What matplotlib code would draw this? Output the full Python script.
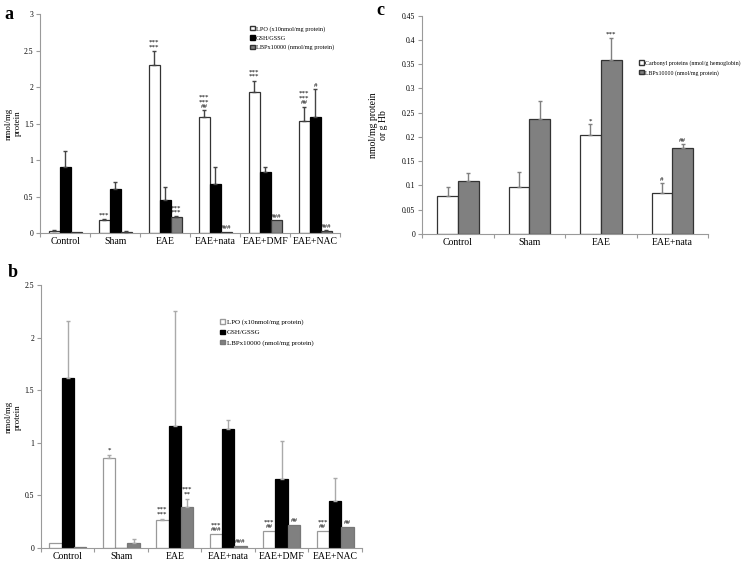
import matplotlib
matplotlib.use("Agg")
import matplotlib.pyplot as plt
from matplotlib.patches import Patch
from matplotlib.ticker import FuncFormatter, FixedLocator
import numpy as np

plt.rcParams['font.family'] = ['Liberation Serif', 'DejaVu Serif']

gruppi_ab = ["Control", "Sham", "EAE", "EAE+nata", "EAE+DMF", "EAE+NAC"]
gruppi_c = ["Control", "Sham", "EAE", "EAE+nata"]

# pannello a
a_lpo = [0.03, 0.18, 2.30, 1.59, 1.93, 1.54]
a_lpo_err = [0.02, 0.02, 0.19, 0.09, 0.16, 0.19]
a_gsh = [0.90, 0.61, 0.45, 0.67, 0.84, 1.59]
a_gsh_err = [0.23, 0.09, 0.18, 0.24, 0.06, 0.38]
a_lbp = [0.01, 0.02, 0.22, 0.02, 0.18, 0.03]
a_lbp_err = [0.0, 0.01, 0.01, 0.0, 0.0, 0.01]
a_note_lpo = ["", "***", "***\n***", "***\n***\n##", "***\n***", "***\n***\n##"]
a_note_gsh = ["", "", "", "", "", "#"]
a_note_lbp = ["", "", "***\n***", "###", "###", "###"]

# pannello b
b_lpo = [0.05, 0.86, 0.27, 0.13, 0.16, 0.16]
b_lpo_err = [0.0, 0.03, 0.01, 0.0, 0.0, 0.0]
b_gsh = [1.62, 0.0, 1.16, 1.13, 0.66, 0.45]
b_gsh_err = [0.54, 0.0, 1.10, 0.09, 0.36, 0.22]
b_lbp = [0.01, 0.05, 0.39, 0.015, 0.22, 0.20]
b_lbp_err = [0.0, 0.04, 0.08, 0.0, 0.0, 0.0]
b_note_lpo = ["", "*", "***\n***", "***\n###", "***\n##", "***\n##"]
b_note_gsh = ["", "", "", "", "", ""]
b_note_lbp = ["", "", "***\n**", "###", "##", "##"]

# pannello c
c_carb = [0.078, 0.096, 0.204, 0.084]
c_carb_err = [0.019, 0.031, 0.022, 0.021]
c_lbp = [0.109, 0.236, 0.358, 0.177]
c_lbp_err = [0.016, 0.039, 0.047, 0.008]
c_note_carb = ["", "", "*", "#"]
c_note_lbp = ["", "", "***", "##"]

lab_lpo = "LPO (x10nmol/mg protein)"
lab_gsh = "GSH/GSSG"
lab_lbp = "LBPx10000 (nmol/mg protein)"
lab_carb = "Carbonyl proteins (nmol/g hemoglobin)"

GRIGIO = '#808080'
SPINE = '#9a9a9a'


def stile_assi(ax, gruppi, ymax, ystep):
    n = len(gruppi)
    ax.set_xlim(-0.5, n - 0.5)
    ax.set_ylim(0, ymax)
    ax.set_yticks(np.arange(0, ymax + ystep / 2, ystep))
    ax.yaxis.set_major_formatter(FuncFormatter(lambda v, p: '%g' % round(v, 3)))
    ax.xaxis.set_major_locator(FixedLocator(np.arange(-0.5, n, 1.0)))
    ax.xaxis.set_minor_locator(FixedLocator(np.arange(n)))
    ax.set_xticklabels([], minor=False)
    ax.set_xticklabels(gruppi, minor=True, fontsize=7)
    ax.tick_params(axis='x', which='minor', length=0, pad=3)
    ax.tick_params(axis='x', which='major', length=3, color=SPINE)
    ax.tick_params(axis='y', labelsize=5.5, length=3, color=SPINE, pad=2)
    for s in ['top', 'right']:
        ax.spines[s].set_visible(False)
    for s in ['left', 'bottom']:
        ax.spines[s].set_color(SPINE)
        ax.spines[s].set_linewidth(0.8)


def serie(ax, x, vals, errs, note, w, fc, ec, err_col, gap):
    ax.bar(x, vals, w, color=fc, edgecolor=ec, linewidth=0.9, zorder=2)
    errs = np.array(errs)
    mask = errs > 0
    ax.errorbar(np.array(x)[mask], np.array(vals)[mask],
                yerr=[np.zeros(mask.sum()), errs[mask]], fmt='none',
                ecolor=err_col, elinewidth=1, capsize=1.5, zorder=3)
    for xi, v, e, t in zip(x, vals, errs, note):
        if t:
            ax.text(xi, v + e + gap, t, ha='center', va='bottom', fontsize=5,
                    linespacing=0.95, zorder=4)


def legenda(ax, handles, anchor, size, spacing):
    ax.legend(handles=handles, loc='upper left', bbox_to_anchor=anchor,
              fontsize=size, frameon=False, handlelength=0.7, handleheight=0.7,
              handletextpad=0.2, labelspacing=spacing, borderpad=0)


fig = plt.figure(figsize=(7.46, 5.62), dpi=100)

# a
ax_a = fig.add_axes([0.054, 0.585, 0.402, 0.39])
xa = np.arange(len(gruppi_ab))
w = 0.22
serie(ax_a, xa - w, a_lpo, a_lpo_err, a_note_lpo, w, 'white', '#333333', '#444444', 0.02)
serie(ax_a, xa, a_gsh, a_gsh_err, a_note_gsh, w, 'black', 'black', '#444444', 0.02)
serie(ax_a, xa + w, a_lbp, a_lbp_err, a_note_lbp, w, GRIGIO, '#333333', '#444444', 0.02)
stile_assi(ax_a, gruppi_ab, 3, 0.5)
ax_a.set_ylabel("nmol/mg\nprotein", fontsize=6.5)
ax_a.yaxis.set_label_coords(-0.062, 0.5)
legenda(ax_a, [Patch(fc='white', ec='#333333', label=lab_lpo),
               Patch(fc='black', ec='black', label=lab_gsh),
               Patch(fc=GRIGIO, ec='#333333', label=lab_lbp)],
        (0.69, 0.96), 4.5, 0.6)

# b
ax_b = fig.add_axes([0.055, 0.025, 0.43, 0.467])
w = 0.23
serie(ax_b, xa - w, b_lpo, b_lpo_err, b_note_lpo, w, 'white', '#999999', '#aaaaaa', 0.02)
serie(ax_b, xa, b_gsh, b_gsh_err, b_note_gsh, w, 'black', 'black', '#aaaaaa', 0.02)
serie(ax_b, xa + w, b_lbp, b_lbp_err, b_note_lbp, w, GRIGIO, '#777777', '#aaaaaa', 0.02)
stile_assi(ax_b, gruppi_ab, 2.5, 0.5)
ax_b.set_ylabel("nmol/mg\nprotein", fontsize=6.5)
ax_b.yaxis.set_label_coords(-0.06, 0.5)
legenda(ax_b, [Patch(fc='white', ec='#999999', label=lab_lpo),
               Patch(fc='black', ec='black', label=lab_gsh),
               Patch(fc=GRIGIO, ec='#777777', label=lab_lbp)],
        (0.548, 0.885), 5, 0.6)

# c
ax_c = fig.add_axes([0.566, 0.584, 0.383, 0.388])
xc = np.arange(len(gruppi_c))
w = 0.29
serie(ax_c, xc - w / 2, c_carb, c_carb_err, c_note_carb, w, 'white', '#333333', GRIGIO, 0.002)
serie(ax_c, xc + w / 2, c_lbp, c_lbp_err, c_note_lbp, w, GRIGIO, '#333333', GRIGIO, 0.002)
stile_assi(ax_c, gruppi_c, 0.45, 0.05)
ax_c.set_ylabel("nmol/mg protein\nor g Hb", fontsize=7)
ax_c.yaxis.set_label_coords(-0.12, 0.5)
legenda(ax_c, [Patch(fc='white', ec='#333333', label=lab_carb),
               Patch(fc=GRIGIO, ec='#333333', label=lab_lbp)],
        (0.75, 0.81), 4.2, 0.7)

# lettere dei pannelli
fig.text(0.006, 0.975, "a", fontsize=13, fontweight='bold', va='center')
fig.text(0.010, 0.515, "b", fontsize=13, fontweight='bold', va='center')
fig.text(0.505, 0.997, "c", fontsize=13, fontweight='bold', va='top')

plt.savefig("out.png", dpi=100)
